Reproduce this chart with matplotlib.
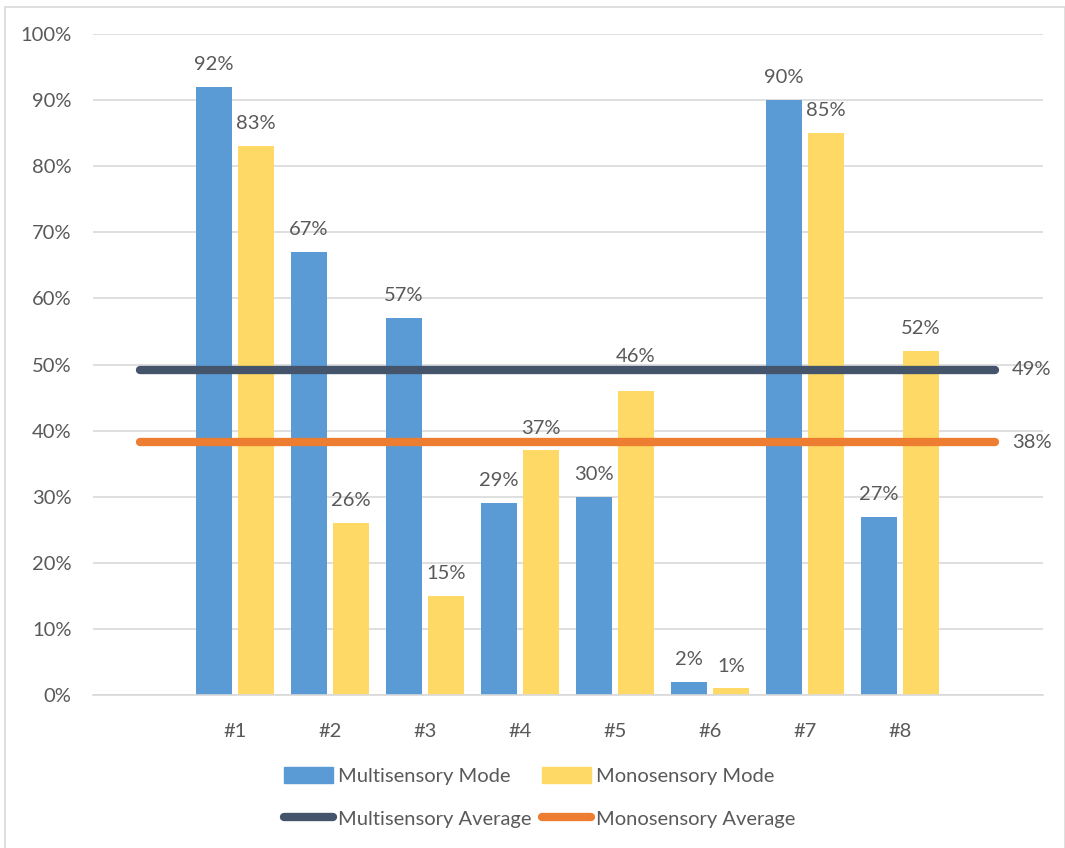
import matplotlib as mpl
from matplotlib import pyplot
from matplotlib.patches import Patch
from matplotlib.lines import Line2D
import numpy as np

# Bar chart of per-item scores for the two modes, with average lines on top.

categories = ["#1", "#2", "#3", "#4", "#5", "#6", "#7", "#8"]
multi_mode = [92, 67, 57, 29, 30, 2, 90, 27]
mono_mode = [83, 26, 15, 37, 46, 1, 85, 52]
multi_avg = 49.2
mono_avg = 38.2
multi_avg_label = "49%"
mono_avg_label = "38%"

BLUE = "#5B9BD5"
YELLOW = "#FFD966"
DARK = "#44546A"
ORANGE = "#ED7D31"
TEXT = "#595959"
GRID = "#D9D9D9"
FS = 14.5

pyplot.rcParams["font.family"] = ["Lato", "DejaVu Sans"]
pyplot.rcParams["font.size"] = FS

fig = pyplot.figure(figsize=(10.65, 8.48), dpi=100)
ax = fig.add_axes([92.5 / 1065, 153 / 848, 950 / 1065, 661 / 848])

# categories sit at 1..8, blank slots at 0 and 9 carry the average lines
x = np.arange(1, len(categories) + 1)
width = 0.38
off = 0.22
ax.bar(x - off, multi_mode, width, color=BLUE, zorder=2)
ax.bar(x + off, mono_mode, width, color=YELLOW, zorder=2)

for xi, v in zip(x, multi_mode):
    ax.annotate(f"{v}%", (xi - off, v), xytext=(0, 10), textcoords="offset points",
                ha="center", va="bottom", color=TEXT, fontsize=FS, zorder=5)
for i, (xi, v) in enumerate(zip(x, mono_mode)):
    # the #5 label was nudged up above the average line in the original
    dy = 19 if i == 4 else 10
    ax.annotate(f"{v}%", (xi + off, v), xytext=(0, dy), textcoords="offset points",
                ha="center", va="bottom", color=TEXT, fontsize=FS, zorder=5)

line_x = [0, len(categories) + 1]
ax.plot(line_x, [multi_avg, multi_avg], color=DARK, lw=6, solid_capstyle="round", zorder=3)
ax.plot(line_x, [mono_avg, mono_avg], color=ORANGE, lw=6, solid_capstyle="round", zorder=3)
ax.annotate(multi_avg_label, (line_x[1], multi_avg), xytext=(12, 0), textcoords="offset points",
            ha="left", va="center", color=TEXT, fontsize=FS)
ax.annotate(mono_avg_label, (line_x[1], mono_avg), xytext=(12, 0), textcoords="offset points",
            ha="left", va="center", color=TEXT, fontsize=FS)

ax.set_xlim(-0.5, len(categories) + 1.5)
ax.set_ylim(0, 100)
ax.set_yticks(np.arange(0, 101, 10))
ax.set_yticklabels([f"{t}%" for t in range(0, 101, 10)])
ax.set_xticks(x)
ax.set_xticklabels(categories)
ax.tick_params(length=0, colors=TEXT, labelsize=FS)
ax.tick_params(axis="y", pad=15)
ax.tick_params(axis="x", pad=20)
ax.yaxis.grid(True, color=GRID, lw=1.2, zorder=0)
ax.set_axisbelow(True)
for s in ["top", "right", "left"]:
    ax.spines[s].set_visible(False)
ax.spines["bottom"].set_color(GRID)
ax.spines["bottom"].set_linewidth(1.2)

handles = [
    Patch(color=BLUE, label="Multisensory Mode"),
    Line2D([], [], color=DARK, lw=6, solid_capstyle="round", label="Multisensory Average"),
    Patch(color=YELLOW, label="Monosensory Mode"),
    Line2D([], [], color=ORANGE, lw=6, solid_capstyle="round", label="Monosensory Average"),
]
leg = fig.legend(handles=handles, ncol=2, loc="center", bbox_to_anchor=(0.507, 0.060),
                 frameon=False, fontsize=FS, handlelength=2.45, handletextpad=0.25,
                 columnspacing=0.5, labelspacing=1.2, handleheight=0.9)
for t in leg.get_texts():
    t.set_color(TEXT)

# thin grey frame round the chart area
fig.patches.append(mpl.patches.Rectangle((5 / 1065, -0.01), 1 - 5 / 1065, 1 - 7 / 848 + 0.01,
                                         transform=fig.transFigure, fill=False,
                                         edgecolor=GRID, lw=1.2))

pyplot.savefig("out.png", dpi=100)
